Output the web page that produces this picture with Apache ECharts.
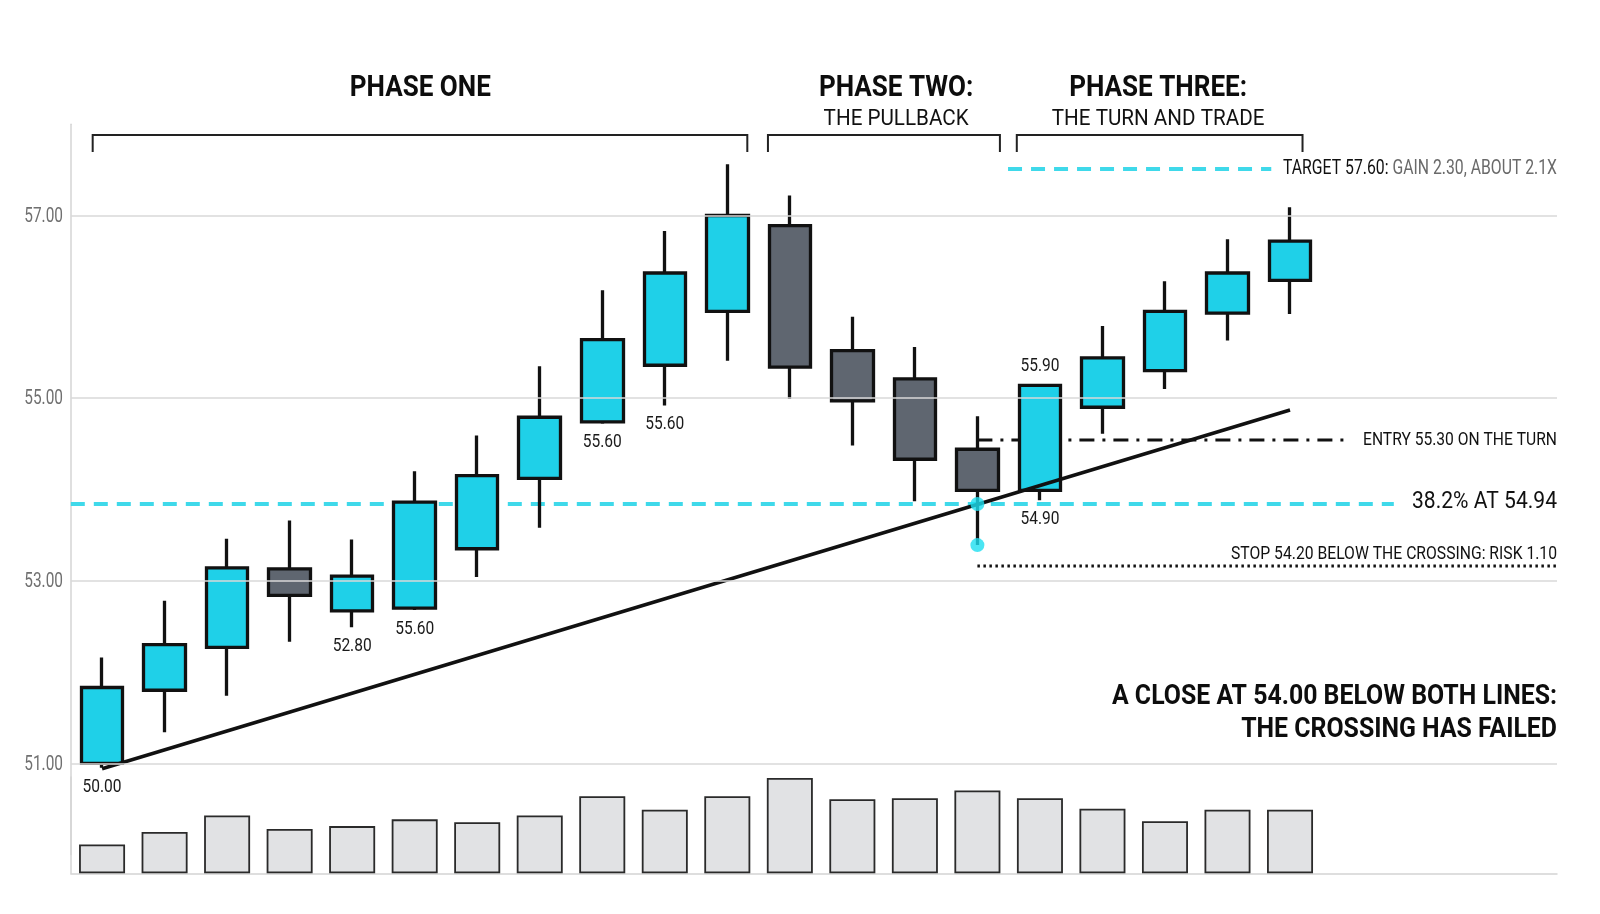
<!DOCTYPE html>
<html><head><meta charset="utf-8">
<script src="https://cdn.jsdelivr.net/npm/echarts@6/dist/echarts.min.js"></script>
<style>html,body{margin:0;padding:0;background:#fff}#c{width:1600px;height:914px}</style>
</head><body><div id="c"></div>
<script>
// ---------- data ----------
const opens  = [51.00, 51.80, 52.27, 53.13, 52.67, 52.70, 53.35, 54.12, 54.74, 55.36, 55.95, 56.89, 55.52, 55.21, 54.44, 53.99, 54.90, 55.30, 55.93, 56.29];
const closes = [51.83, 52.30, 53.14, 52.84, 53.05, 53.86, 54.15, 54.79, 55.64, 56.37, 57.00, 55.34, 54.97, 54.33, 53.99, 55.14, 55.44, 55.95, 56.37, 56.72];
const lows   = [50.95, 51.34, 51.74, 52.33, 52.49, 52.68, 53.04, 53.58, 54.72, 54.92, 55.41, 54.99, 54.48, 53.87, 53.39, 53.88, 54.61, 55.10, 55.63, 55.92];
const highs  = [52.16, 52.78, 53.46, 53.66, 53.45, 54.20, 54.59, 55.35, 56.18, 56.83, 57.56, 57.22, 55.89, 55.56, 54.80, 55.15, 55.79, 56.28, 56.74, 57.09];
const volumes = [30, 43, 60, 46, 49, 56, 53, 60, 80, 66, 80, 99, 77, 78, 86, 78, 67, 54, 66, 66];
const yTicks = [51, 53, 55, 57];

const noteIdx  = [0, 4, 5, 8, 9, 15, 15];
const noteText = ['50.00', '52.80', '55.60', '55.60', '55.60', '55.90', '54.90'];
const noteSide = ['below', 'below', 'below', 'below', 'below', 'above', 'below'];

const trendLine = [[0, 50.94], [19, 54.87]];
const targetLine = [[14.49, 57.51], [18.7, 57.51]];
const fibLine = [[-0.5, 53.84], [20.66, 53.84]];
const entryLine = [[14, 54.54], [19.94, 54.54]];
const stopLine = [[14, 53.16], [23.27, 53.16]];
const crossDots = [[14, 53.84], [14, 53.39]];

const phaseTitles = ['PHASE ONE', 'PHASE TWO:', 'PHASE THREE:'];
const phaseSubs = ['', 'THE PULLBACK', 'THE TURN AND TRADE'];
const phaseSpans = [[-0.15, 10.32], [10.65, 14.36], [14.63, 19.2]];
const phaseCenters = [5.09, 12.7, 16.89];

const targetText = ['TARGET 57.60:', ' GAIN 2.30, ABOUT 2.1X'];
const entryText = 'ENTRY 55.30 ON THE TURN';
const fibText = '38.2% AT 54.94';
const stopText = 'STOP 54.20 BELOW THE CROSSING: RISK 1.10';
const footText = ['A CLOSE AT 54.00 BELOW BOTH LINES:', 'THE CROSSING HAS FAILED'];

// ---------- chart ----------
const FF = "Roboto, 'Noto Sans', sans-serif";
const CYAN = '#1fd0e8';
const DASH_CYAN = '#3fd9ea';
const X_MIN = -0.5, X_MAX = 23.27;

// horizontal squeeze so the Roboto text matches the condensed face of the reference
const mctx = document.createElement('canvas').getContext('2d');
function squeeze(text, font, width) { mctx.font = font; return width / mctx.measureText(text).width; }

const chart = echarts.init(document.getElementById('c'), null, {renderer: 'canvas'});

const candleData = opens.map((o, i) => [i, o, closes[i], lows[i], highs[i]]);
const volData = volumes.map((v, i) => [i, v]);

const option = {
  animation: false,
  backgroundColor: '#ffffff',
  grid: [
    {left: 70.8, right: 43, top: 124.2, height: 730.4},
    {left: 70.8, right: 43, top: 777, height: 96.3}
  ],
  xAxis: [
    {type: 'value', gridIndex: 0, min: X_MIN, max: X_MAX, show: false},
    {type: 'value', gridIndex: 1, min: X_MIN, max: X_MAX,
      axisLine: {show: true, onZero: false, lineStyle: {color: '#d4d4d4', width: 1.5}},
      axisTick: {show: false}, axisLabel: {show: false}, splitLine: {show: false}}
  ],
  yAxis: [
    {type: 'value', gridIndex: 0, min: 50, max: 58, interval: 1,
      axisLine: {show: true, onZero: false, lineStyle: {color: '#d4d4d4', width: 1.5}},
      axisTick: {show: false}, splitLine: {show: false}, axisLabel: {show: false}},
    {type: 'value', gridIndex: 1, min: 0, max: 100,
      axisLine: {show: true, onZero: false, lineStyle: {color: '#d4d4d4', width: 1.5}},
      axisTick: {show: false}, axisLabel: {show: false}, splitLine: {show: false}}
  ],
  series: [
    {
      type: 'line', xAxisIndex: 0, yAxisIndex: 0, data: [], z: 1,
      markLine: {silent: true, symbol: 'none', label: {show: false},
        lineStyle: {color: '#d9d9d9', width: 1.5, type: 'solid'},
        data: yTicks.map(t => ({yAxis: t}))}
    },
    {type: 'line', xAxisIndex: 0, yAxisIndex: 0, data: fibLine, symbol: 'none', z: 2,
      lineStyle: {color: DASH_CYAN, width: 4, type: [14, 9]}},
    {type: 'line', xAxisIndex: 0, yAxisIndex: 0, data: targetLine, symbol: 'none', z: 2,
      lineStyle: {color: DASH_CYAN, width: 4, type: [14, 9]}},
    {type: 'line', xAxisIndex: 0, yAxisIndex: 0, data: entryLine, symbol: 'none', z: 2,
      lineStyle: {color: '#111', width: 3, type: [15, 8, 3, 8]}},
    {type: 'line', xAxisIndex: 0, yAxisIndex: 0, data: stopLine, symbol: 'none', z: 2,
      lineStyle: {color: '#111', width: 3, type: [2.5, 3.5]}},
    {
      type: 'candlestick', xAxisIndex: 0, yAxisIndex: 0, data: candleData, z: 3,
      barWidth: 42,
      itemStyle: {color: CYAN, color0: '#5f6670', borderColor: '#111', borderColor0: '#111', borderWidth: 3.3}
    },
    {type: 'line', xAxisIndex: 0, yAxisIndex: 0, data: trendLine, symbol: 'none', z: 4,
      lineStyle: {color: '#111', width: 3.5}},
    {type: 'scatter', xAxisIndex: 0, yAxisIndex: 0, data: crossDots, z: 5,
      symbolSize: 14, itemStyle: {color: '#1edef0'}},
    {type: 'bar', xAxisIndex: 1, yAxisIndex: 1, data: volData, barWidth: 46,
      itemStyle: {color: '#e1e2e4', borderColor: '#2a2a2a', borderWidth: 1.8}}
  ]
};
chart.setOption(option);

// ---------- text and brackets placed through the axes ----------
const px = (x, y) => chart.convertToPixel({gridIndex: 0}, [x, y]);
const rightX = px(X_MAX, 55)[0];
const g = [];
function txt(text, x, y, font, fill, align, width) {
  return {type: 'text', x: x, y: y, scaleX: squeeze(text, font, width), silent: true,
    style: {text: text, fill: fill, font: font, align: align, verticalAlign: 'middle'}};
}
// y-axis tick labels
const axisFont = '19.5px ' + FF;
const axisSq = squeeze('57.00', axisFont, 38.7);
yTicks.forEach(t => {
  g.push({type: 'text', x: 63, y: px(0, t)[1] + 1.5, scaleX: axisSq, silent: true,
    style: {text: t.toFixed(2), fill: '#707070', font: axisFont, align: 'right', verticalAlign: 'middle'}});
});
// candle notes
const noteFont = '19px ' + FF;
const noteSq = squeeze('55.60', noteFont, 39);
noteIdx.forEach((idx, k) => {
  const above = noteSide[k] === 'above';
  const p = px(idx, above ? highs[idx] : lows[idx]);
  g.push({type: 'text', x: p[0], y: p[1] + (above ? -18 : 19), scaleX: noteSq, silent: true,
    style: {text: noteText[k], fill: '#1a1a1a', font: noteFont, align: 'center', verticalAlign: 'middle'}});
});
// phase brackets and titles
const titleFont = 'bold 29.5px ' + FF;
const titleSq = squeeze('PHASE ONE', titleFont, 141);
const subFont = '22px ' + FF;
const subSq = squeeze('THE PULLBACK', subFont, 145);
phaseSpans.forEach((s, i) => {
  const a = px(s[0], 55)[0], b = px(s[1], 55)[0];
  g.push({type: 'polyline', shape: {points: [[a, 152], [a, 135], [b, 135], [b, 152]]},
    style: {stroke: '#222', lineWidth: 2, fill: null}, silent: true});
  const cx = px(phaseCenters[i], 55)[0];
  g.push({type: 'text', x: cx, y: 89, scaleX: titleSq, silent: true,
    style: {text: phaseTitles[i], fill: '#0d0d0d', font: titleFont, align: 'center', verticalAlign: 'middle'}});
  if (phaseSubs[i]) g.push({type: 'text', x: cx, y: 119, scaleX: subSq, silent: true,
    style: {text: phaseSubs[i], fill: '#111', font: subFont, align: 'center', verticalAlign: 'middle'}});
});
// level labels
const tFont = '20.5px ' + FF;
g.push({type: 'text', x: rightX, y: px(0, targetLine[0][1])[1], silent: true,
  scaleX: squeeze(targetText.join(''), tFont, 274),
  style: {text: '{a|' + targetText[0] + '}{b|' + targetText[1] + '}', align: 'right', verticalAlign: 'middle',
    rich: {a: {fill: '#111', font: tFont}, b: {fill: '#6a6a6a', font: tFont}}}});
g.push(txt(entryText, rightX, px(0, entryLine[0][1])[1], '19px ' + FF, '#111', 'right', 194));
g.push(txt(fibText, rightX, px(0, fibLine[0][1])[1] - 2, '24.5px ' + FF, '#111', 'right', 145));
g.push(txt(stopText, rightX, px(0, stopLine[0][1])[1] - 12, '19px ' + FF, '#111', 'right', 326));
const footFont = 'bold 28px ' + FF;
const footSq = squeeze(footText[0], footFont, 445);
g.push({type: 'text', x: rightX, y: 697, scaleX: footSq, silent: true,
  style: {text: footText[0], fill: '#0d0d0d', font: footFont, align: 'right', verticalAlign: 'middle'}});
g.push({type: 'text', x: rightX, y: 730, scaleX: footSq, silent: true,
  style: {text: footText[1], fill: '#0d0d0d', font: footFont, align: 'right', verticalAlign: 'middle'}});
chart.setOption({graphic: g});
</script>
</body></html>
